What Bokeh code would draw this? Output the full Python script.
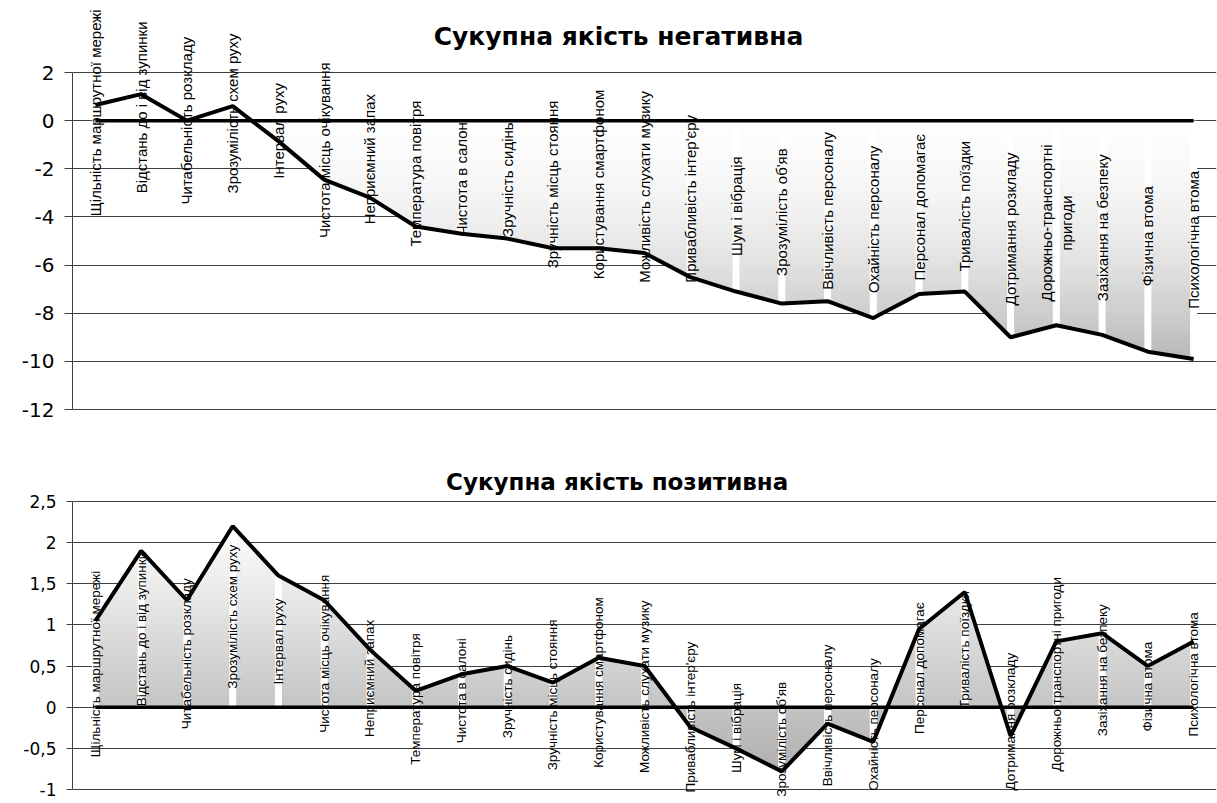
import numpy as np
from bokeh.plotting import figure
from bokeh.models import ColumnDataSource, Range1d, FixedTicker, Label
from bokeh.layouts import column
from bokeh.embed import file_html
from bokeh.resources import INLINE

# ---------------- data ----------------
categories = [
    "Щільність маршрутної мережі",
    "Відстань до і від зупинки",
    "Читабельність розкладу",
    "Зрозумілість схем руху",
    "Інтервал руху",
    "Чистота місць очікування",
    "Неприємний запах",
    "Температура повітря",
    "Чистота в салоні",
    "Зручність сидінь",
    "Зручність місць стояння",
    "Користування смартфоном",
    "Можливість слухати музику",
    "Привабливість інтер'єру",
    "Шум і вібрація",
    "Зрозумілість об'яв",
    "Ввічливість персоналу",
    "Охайність персоналу",
    "Персонал допомагає",
    "Тривалість поїздки",
    "Дотримання розкладу",
    "Дорожньо-транспортні пригоди",
    "Зазіхання на безпеку",
    "Фізична втома",
    "Психологічна втома",
]

negative_values = [0.65, 1.1, 0.0, 0.6, -0.85, -2.45, -3.2, -4.4, -4.7, -4.9,
                   -5.3, -5.3, -5.5, -6.5, -7.1, -7.6, -7.5, -8.2, -7.2, -7.1,
                   -9.0, -8.5, -8.9, -9.6, -9.9]

positive_values = [1.05, 1.9, 1.3, 2.2, 1.6, 1.3, 0.7, 0.2, 0.4, 0.5,
                   0.3, 0.6, 0.5, -0.24, -0.5, -0.78, -0.2, -0.42, 0.95, 1.4,
                   -0.35, 0.8, 0.9, 0.5, 0.8]

neg_ticks = [-12, -10, -8, -6, -4, -2, 0, 2]
neg_tick_labels = ["-12", "-10", "-8", "-6", "-4", "-2", "0", "2"]
pos_ticks = [-1, -0.5, 0, 0.5, 1, 1.5, 2, 2.5]
pos_tick_labels = ["-1", "-0,5", "0", "0,5", "1", "1,5", "2", "2,5"]

neg_title = "Сукупна якість негативна"
pos_title = "Сукупна якість позитивна"

# labels for the upper chart (one label is broken over two lines there)
neg_labels = [c.replace("транспортні ", "транспортні\n") for c in categories]


def gradient_image(vals, gray_low, gamma, nx, ny):
    """RGBA image of the area between 0 and the data line, shaded with a
    vertical white->gray gradient (computed from the data)."""
    v = np.asarray(vals, dtype=float)
    n = len(v)
    idx = np.arange(n)
    top = max(v.max(), 0.0)
    bot = min(v.min(), 0.0)
    xc = (np.arange(nx) + 0.5) * (n - 1) / nx
    yc = bot + (np.arange(ny) + 0.5) * (top - bot) / ny
    lv = np.interp(xc, idx, v)
    hi = np.maximum(lv, 0.0)[None, :]
    lo = np.minimum(lv, 0.0)[None, :]
    Y = yc[:, None]
    inside = (Y <= hi) & (Y >= lo)
    frac = ((top - yc) / (top - bot)) ** gamma
    g = (255 - frac * (255 - gray_low)).astype(np.uint8)
    rgba = np.zeros((ny, nx, 4), dtype=np.uint8)
    rgba[..., 0] = g[:, None]
    rgba[..., 1] = g[:, None]
    rgba[..., 2] = g[:, None]
    rgba[..., 3] = np.where(inside, 255, 0).astype(np.uint8)
    img = rgba.view(dtype=np.uint32).reshape((ny, nx))
    return img, bot, top


def make_chart(vals, labels, ticks, tick_labels, title,
               width, height, border_left, border_right,
               px_top_tick, px_bottom_tick,
               title_size, title_px_x, title_px_y,
               tick_size, tick_out, label_size, gray_low, gamma, img_ny):
    """px_top_tick / px_bottom_tick: vertical pixel positions (from the top of
    this figure) of the highest and lowest tick; the frame covers the whole
    figure height so that the rotated data labels are not clipped."""
    n = len(vals)
    idx = list(range(n))
    t_hi, t_lo = max(ticks), min(ticks)
    scale = (px_bottom_tick - px_top_tick) / (t_hi - t_lo)
    y_hi = t_hi + px_top_tick / scale
    y_lo = t_lo - (height - px_bottom_tick) / scale
    frame_w = width - border_left - border_right
    x_lo, x_hi = -0.5, n - 0.5
    xscale = frame_w / (x_hi - x_lo)

    src = ColumnDataSource(dict(x=idx, y=vals, zero=[0.0] * n))
    p = figure(width=width, height=height, output_backend="svg",
               toolbar_location=None, x_axis_location=None,
               x_range=Range1d(x_lo, x_hi), y_range=Range1d(y_lo, y_hi),
               min_border_left=border_left, min_border_right=border_right,
               min_border_top=0, min_border_bottom=0)
    p.outline_line_color = None
    p.background_fill_color = "white"
    p.border_fill_color = "white"

    ax = p.yaxis[0]
    ax.ticker = FixedTicker(ticks=ticks)
    ax.bounds = (t_lo, t_hi)
    ax.major_label_overrides = dict(zip(ticks, tick_labels))
    ax.axis_line_color = "#404040"
    ax.major_tick_line_color = "#404040"
    ax.major_tick_out = tick_out
    ax.major_tick_in = 0
    ax.minor_tick_line_color = None
    ax.major_label_standoff = 10
    ax.major_label_text_font = "DejaVu Sans"
    ax.major_label_text_font_size = tick_size
    ax.major_label_text_color = "black"

    p.xgrid.visible = False
    p.ygrid.grid_line_color = "#404040"
    p.ygrid.grid_line_width = 1

    img, bot, top = gradient_image(vals, gray_low, gamma, 1100, img_ny)
    p.image_rgba(image=[img], x=0, y=bot, dw=n - 1, dh=top - bot)

    p.segment(x0="x", y0="zero", x1="x", y1="y", source=src,
              line_color="white", line_width=7)
    p.line(x="x", y="zero", source=src, line_color="black", line_width=3.5)
    p.line(x="x", y="y", source=src, line_color="black", line_width=4)

    # data labels: centred in the area, i.e. at half of each value
    for xi, v, t in zip(idx, vals, labels):
        p.add_layout(Label(x=xi, y=v / 2.0, text=t, angle=np.pi / 2,
                           text_align="center", text_baseline="middle",
                           text_font="Liberation Sans",
                           text_font_size=label_size, text_color="black"))

    # chart title (inside the frame, which spans the figure height)
    p.add_layout(Label(x=x_lo + (title_px_x - border_left) / xscale,
                       y=y_hi - title_px_y / scale,
                       text=title, text_align="center",
                       text_baseline="middle", text_font="DejaVu Sans",
                       text_font_style="bold", text_font_size=title_size,
                       text_color="black"))
    return p


# upper figure: page y 0..425 ; lower figure: page y 425..803
p1 = make_chart(negative_values, neg_labels, neg_ticks, neg_tick_labels,
                neg_title, 1217, 425, 72, 1, 72, 409,
                "25px", 618, 36, "20px", 8, "15px", 184, 2.0, 270)
p2 = make_chart(positive_values, categories, pos_ticks, pos_tick_labels,
                pos_title, 1217, 378, 66, 0, 76, 364,
                "23px", 614, 56, "17px", 6, "13.5px", 176, 1.0, 250)

layout = column(p1, p2, spacing=0)
open("out.html", "w").write(file_html(layout, INLINE))
